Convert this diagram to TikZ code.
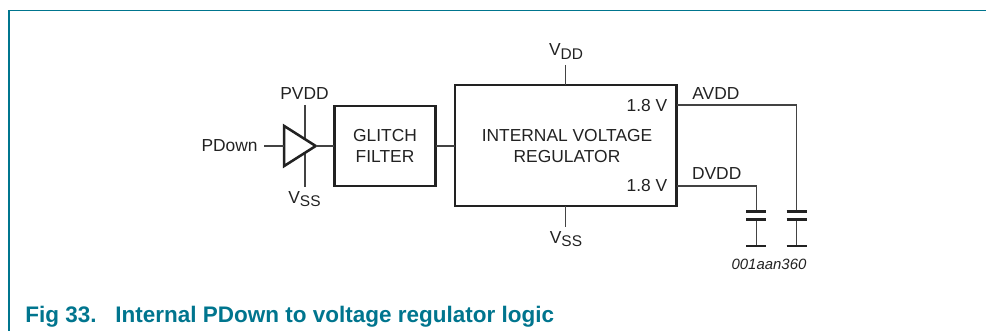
\documentclass[tikz,border=0pt]{standalone}
\usepackage{fontspec}
\setmainfont{Liberation Sans}
\usepackage{xcolor}
\usetikzlibrary{positioning,shapes.geometric}
\definecolor{nxpteal}{HTML}{00758E}
\definecolor{inkgray}{HTML}{222222}
\newcommand{\railname}[1]{V\raisebox{-1.9pt}{\fontsize{8.8}{10}\selectfont #1}}
\tikzset{
  blockbox/.style={draw=inkgray, line width=1.45pt, align=center, inner sep=0pt, outer sep=0pt},
  wire/.style={draw=inkgray!85!white, line width=0.75pt},
  plate/.style={draw=inkgray, line width=1.7pt},
  lbl/.style={font=\fontsize{9.9}{12}\selectfont, text=inkgray, inner sep=0pt, align=center},
  figlbl/.style={anchor=base west, inner sep=0pt, text=nxpteal, font=\fontsize{12.8}{14}\selectfont\bfseries}
}
\begin{document}
\begin{tikzpicture}[line join=miter]
\useasboundingbox (0,0) rectangle (19.72,6.62);
% frame
\coordinate (F0) at (0.180,0.000);
\coordinate (F1) at (0.180,6.410);
\coordinate (F2) at (19.72,6.410);
\draw[nxpteal, line width=0.6pt] (F0) -- (F1) -- (F2);
% free wire ends
\coordinate (InL) at (5.280,3.700);
\coordinate (RailT) at (6.100,4.520);
\coordinate (RailB) at (6.100,2.886);
\coordinate (VddE) at (11.316,5.320);
\coordinate (VssE) at (11.316,2.080);
\coordinate (AvL) at (13.540,4.520);
\coordinate (AvT) at (15.934,4.520);
\coordinate (DvL) at (13.540,2.900);
\coordinate (DvT) at (15.126,2.900);
\coordinate (C1a) at (15.126,2.380);
\coordinate (C1b) at (15.126,2.220);
\coordinate (C1c) at (15.126,1.700);
\coordinate (C2a) at (15.934,2.380);
\coordinate (C2b) at (15.934,2.220);
\coordinate (C2c) at (15.934,1.700);
% blocks
\node[blockbox, minimum width=2.03cm, minimum height=1.60cm] (Glitch) at (7.700,3.700) {};
\node[blockbox, minimum width=4.43cm, minimum height=2.42cm] (Reg) at (11.316,3.710) {};
\draw[wire] (RailT) -- (RailB);
\node[draw=inkgray, fill=white, line width=1.45pt, isosceles triangle, isosceles triangle stretches,
  minimum width=0.80cm, minimum height=0.63cm, inner sep=0pt, outer sep=0pt, anchor=apex] (Drv) at (6.314,3.700) {};
% wires
\draw[wire] (InL) -- (Drv.west);
\draw[wire] (Drv.apex) -- (Glitch.west);
\draw[wire] (Glitch.east) -- (Reg.west |- Glitch.east);
\draw[wire] (VddE) -- (Reg.north);
\draw[wire] (VssE) -- (Reg.south);
\draw[wire] (AvL) -- (AvT) -- (C2a);
\draw[wire] (DvL) -- (DvT) -- (C1a);
\draw[wire] (C1b) -- (C1c);
\draw[wire] (C2b) -- (C2c);
\foreach \p in {C1a,C1b,C1c,C2a,C2b,C2c}
  \draw[plate] ([xshift=-0.2cm]\p) -- ([xshift=0.2cm]\p);
% labels
\node[lbl, anchor=east] (PDownL) at (5.160,3.700) {PDown};
\node[lbl] (PvddL) at (6.090,4.748) {PVDD};
\node[lbl, anchor=base] (VssA) at (6.090,2.553) {\railname{SS}};
\node[lbl] (GlitchT) at (7.700,3.704) {GLITCH\\FILTER};
\node[lbl] (RegT) at (11.340,3.704) {INTERNAL VOLTAGE\\REGULATOR};
\node[lbl, anchor=east] (V18a) at (13.354,4.500) {1.8 V};
\node[lbl, anchor=east] (V18b) at (13.354,2.900) {1.8 V};
\node[lbl, anchor=west] (AvddL) at (13.840,4.740) {AVDD};
\node[lbl, anchor=west] (DvddL) at (13.834,3.140) {DVDD};
\node[lbl, anchor=base] (VddL) at (11.320,5.500) {\railname{DD}};
\node[lbl, anchor=base] (VssL) at (11.320,1.753) {\railname{SS}};
\node[lbl, font=\fontsize{8.5}{10}\selectfont\itshape] (CodeL) at (15.380,1.340) {001aan360};
\node[figlbl] (FigNo) at (0.500,0.160) {Fig 33.};
\node[figlbl] (FigT) at (2.300,0.160) {Internal PDown to voltage regulator logic};
\end{tikzpicture}
\end{document}
